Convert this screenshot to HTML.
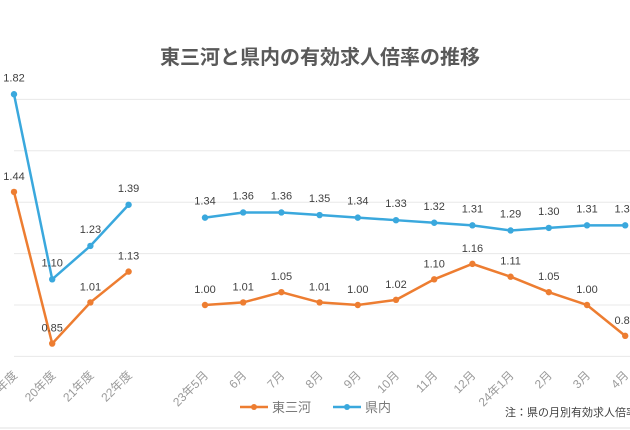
<!DOCTYPE html>
<html><head><meta charset="utf-8"><style>
body{margin:0;background:#fff;}
svg{display:block;font-family:"Liberation Sans","Noto Sans CJK JP",sans-serif;}
</style></head><body>
<svg id="c" width="630" height="430">
<text x="320" y="64" text-anchor="middle" font-size="20" font-weight="bold" fill="#595959">東三河と県内の有効求人倍率の推移</text>
<g id="grid"></g><g id="xl"></g><g id="series"></g>
<g>
<g><line x1="240" y1="407" x2="268" y2="407" stroke="#ED7D31" stroke-width="2.5"/><circle cx="254" cy="407" r="3" fill="#ED7D31"/><text x="272" y="412" font-size="13" fill="#7a7a7a">東三河</text></g>
<g><line x1="333" y1="407" x2="361" y2="407" stroke="#3AA8DD" stroke-width="2.5"/><circle cx="347" cy="407" r="3" fill="#3AA8DD"/><text x="365" y="412" font-size="13" fill="#7a7a7a">県内</text></g>
</g>
<text x="505" y="416" font-size="11" fill="#404040">注：県の月別有効求人倍率</text>
<line x1="0" y1="428" x2="630" y2="428" stroke="#e0e0e0"/>
</svg>
<script>
const categories=["19年度","20年度","21年度","22年度","","23年5月","6月","7月","8月","9月","10月","11月","12月","24年1月","2月","3月","4月"];
const eastValues=[1.44,0.85,1.01,1.13,null,1.00,1.01,1.05,1.01,1.00,1.02,1.10,1.16,1.11,1.05,1.00,0.88];
const prefValues=[1.82,1.10,1.23,1.39,null,1.34,1.36,1.36,1.35,1.34,1.33,1.32,1.31,1.29,1.30,1.31,1.31];
const yTicks=[0.8,1.0,1.2,1.4,1.6,1.8];
const NS="http://www.w3.org/2000/svg";
const xs=i=>14+38.2*i;
const ys=v=>305-(v-1.0)*257;
function mk(t,a,p){const e=document.createElementNS(NS,t);for(const k in a)e.setAttribute(k,a[k]);p.appendChild(e);return e;}
const grid=document.getElementById('grid');
yTicks.forEach(v=>{const l=mk('line',{x1:14,x2:630,y1:ys(v),y2:ys(v),stroke:'#e8e8e8'},grid);

});
const xl=document.getElementById('xl');
categories.forEach((c,i)=>{if(!c)return;const x=xs(i)+4,y=376;
const t=mk('text',{x:x,y:y,'text-anchor':'end','font-size':12,fill:'#9a9a9a',transform:`rotate(-45 ${x} ${y})`},xl);t.textContent=c;

});
const sg=document.getElementById('series');
function draw(vals,color,name,labelDy){
 let segs=[],cur=[];
 vals.forEach((v,i)=>{if(v==null){if(cur.length)segs.push(cur);cur=[];}else cur.push([xs(i),ys(v)]);});
 if(cur.length)segs.push(cur);
 segs.forEach(s=>{const p=mk('polyline',{points:s.map(q=>q.join(',')).join(' '),fill:'none',stroke:color,'stroke-width':2.5},sg);
 
 });
 vals.forEach((v,i)=>{if(v==null)return;
 const c=mk('circle',{cx:xs(i),cy:ys(v),r:3.2,fill:color},sg);
 
 
 const t=mk('text',{x:xs(i),y:ys(v)+labelDy,'text-anchor':'middle','font-size':11,fill:'#404040'},sg);t.textContent=v.toFixed(2);
 
 });
}
draw(eastValues,'#ED7D31','east-mikawa',-12);
draw(prefValues,'#3AA8DD','prefecture',-13);
</script>
</body></html>
